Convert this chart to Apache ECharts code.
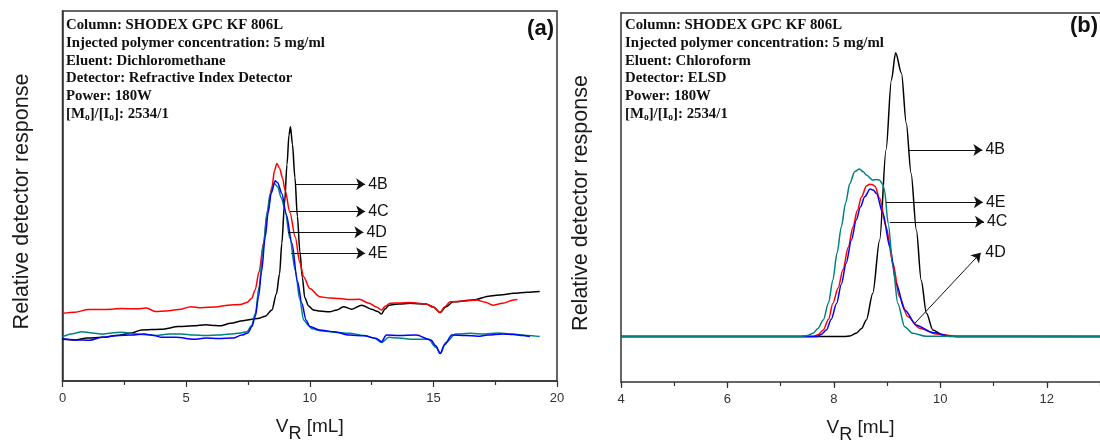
<!DOCTYPE html>
<html>
<head>
<meta charset="utf-8">
<script src="https://cdn.jsdelivr.net/npm/echarts@6/dist/echarts.min.js"></script>
<style>
  html, body { margin: 0; padding: 0; background: #fff; }
  #chart { width: 1100px; height: 443px; }
</style>
</head>
<body>
<div id="chart"></div>
<script>
// GPC traces, elution volume V_R [mL] vs relative detector response (arbitrary units, 0-100)

// Panel (a): RI detector, dichloromethane
const aBlack = [[0,11.3],[0.5,11.1],[1.0,11.6],[1.6,11.8],[2.2,12.3],[2.8,13.0],[3.2,13.8],[4.0,14.0],[4.7,14.7],[5.3,14.9],[5.8,15.2],[6.2,15.0],[6.4,14.9],[6.8,15.6],[7.3,16.3],[7.9,16.9],[8.2,17.5],[8.47,19.2],[8.65,23.5],[8.78,29.0],[8.87,37.2],[8.98,48.0],[9.08,58.5],[9.16,66.5],[9.22,68.7],[9.3,64.0],[9.4,55.0],[9.5,44.5],[9.6,35.0],[9.7,28.0],[9.8,22.5],[9.95,20.3],[10.15,19.2],[10.4,18.9],[10.8,18.7],[11.1,19.2],[11.36,20.1],[11.7,19.4],[12.1,20.5],[12.5,19.4],[12.75,18.8],[12.9,18.1],[13.05,19.5],[13.2,20.5],[13.6,20.8],[14.06,21.0],[14.7,20.8],[15.0,20.0],[15.27,18.5],[15.5,20.0],[15.8,21.4],[16.6,21.9],[17.3,23.0],[17.8,23.3],[18.24,23.7],[18.8,24.0],[19.3,24.2]];
const aRed = [[0,18.3],[0.5,18.6],[1.05,19.3],[1.5,19.3],[2.0,19.4],[2.4,19.6],[3.0,19.5],[3.4,19.7],[3.75,18.8],[4.2,18.9],[4.7,19.3],[5.2,20.1],[5.6,19.8],[6.2,20.0],[6.7,20.5],[7.2,20.7],[7.46,21.2],[7.65,22.3],[7.79,24.6],[7.95,29.5],[8.13,37.2],[8.3,46.0],[8.47,52.5],[8.58,57.0],[8.67,58.8],[8.78,57.5],[8.9,54.8],[9.0,51.6],[9.2,45.5],[9.41,39.0],[9.6,32.0],[9.75,28.2],[10.0,25.0],[10.4,22.8],[10.8,22.4],[11.2,22.3],[11.6,22.0],[12.0,22.1],[12.4,21.0],[12.7,20.0],[12.9,19.2],[13.05,20.2],[13.25,21.0],[13.6,21.1],[14.06,21.2],[14.7,20.8],[15.0,20.0],[15.27,18.5],[15.45,20.0],[15.68,21.4],[16.2,21.6],[16.75,21.9],[17.1,21.3],[17.4,20.5],[17.8,21.0],[18.24,21.9],[18.4,22.0]];
const aTeal = [[0,12.0],[0.4,12.8],[0.78,13.3],[1.2,13.0],[1.6,12.7],[2.0,13.0],[2.4,13.2],[3.0,12.7],[3.5,12.5],[3.8,12.3],[4.3,12.7],[4.8,12.7],[5.3,12.4],[5.8,12.3],[6.3,12.4],[6.8,12.7],[7.2,13.0],[7.46,13.3],[7.65,15.0],[7.8,18.3],[7.95,25.5],[8.13,37.2],[8.27,45.5],[8.4,50.7],[8.57,53.4],[8.7,52.5],[8.85,49.5],[9.0,46.2],[9.2,38.5],[9.41,30.0],[9.6,22.0],[9.75,16.5],[9.95,15.0],[10.1,14.1],[10.5,13.5],[11.0,13.2],[11.6,12.9],[12.2,12.3],[12.6,11.6],[12.9,10.4],[13.2,11.8],[13.6,11.6],[14.2,11.3],[14.8,11.3],[15.1,9.1],[15.3,7.5],[15.5,10.4],[15.9,12.7],[16.5,12.9],[17.0,12.7],[17.6,13.0],[18.2,12.7],[18.8,12.3],[19.3,12.0]];
const aBlue = [[0,11.4],[0.3,11.2],[0.58,11.1],[1.1,11.0],[1.6,11.8],[2.2,12.3],[2.8,12.4],[3.3,12.7],[3.7,12.3],[4.0,11.8],[4.6,11.8],[5.3,11.3],[5.8,11.6],[6.3,11.5],[6.9,11.6],[7.25,12.4],[7.5,13.0],[7.66,14.7],[7.8,17.5],[7.93,22.8],[8.05,29.5],[8.2,39.0],[8.32,45.5],[8.44,50.7],[8.6,54.1],[8.7,53.6],[8.87,50.7],[9.05,45.0],[9.28,37.2],[9.5,27.0],[9.68,21.0],[9.85,16.5],[10.0,14.7],[10.4,13.8],[11.0,13.3],[11.6,12.4],[12.2,12.2],[12.7,11.5],[12.9,10.6],[13.1,12.4],[13.6,12.3],[14.3,12.4],[14.9,11.1],[15.1,9.5],[15.27,7.4],[15.45,9.8],[15.75,12.4],[16.3,12.3],[16.8,12.1],[17.2,12.4],[17.8,12.7],[18.24,12.6],[18.6,12.3],[18.9,12.0]];

// Panel (b): ELSD, chloroform
const bBlack = [[4,12.3],[8.2,12.3],[8.3,12.5],[8.42,13.2],[8.52,14.5],[8.61,16.8],[8.73,24.0],[8.86,38.5],[8.98,62.9],[9.08,81.8],[9.16,89.2],[9.27,83.7],[9.36,70.1],[9.45,56.6],[9.55,41.2],[9.64,27.6],[9.74,18.6],[9.86,14.1],[10.05,12.7],[10.3,12.3],[14,12.3]];
const bRed = [[4,12.3],[7.61,12.3],[7.7,12.8],[7.8,14.1],[7.9,17.0],[7.98,21.3],[8.08,25.5],[8.17,30.4],[8.27,36.5],[8.36,42.1],[8.44,46.5],[8.52,50.2],[8.61,53.1],[8.67,53.6],[8.72,53.5],[8.77,53.1],[8.86,49.8],[8.98,42.1],[9.11,32.2],[9.23,23.1],[9.39,17.7],[9.61,14.6],[9.92,13.0],[10.35,12.3],[14,12.3]];
const bBlue = [[4,12.3],[7.67,12.3],[7.76,12.9],[7.86,14.1],[7.95,17.0],[8.05,21.3],[8.14,26.5],[8.23,32.2],[8.33,38.5],[8.42,43.9],[8.5,47.5],[8.58,50.2],[8.68,52.3],[8.74,52.0],[8.8,51.1],[8.92,45.7],[9.05,36.7],[9.17,26.7],[9.33,19.5],[9.55,15.4],[9.86,13.4],[10.2,12.3],[14,12.3]];
const bTeal = [[4,12.3],[7.36,12.3],[7.5,12.6],[7.61,13.2],[7.7,14.5],[7.8,16.8],[7.9,21.5],[7.98,27.6],[8.06,35.0],[8.14,42.1],[8.22,48.5],[8.3,53.8],[8.39,57.0],[8.48,57.7],[8.55,57.0],[8.61,56.1],[8.73,54.7],[8.8,54.9],[8.86,54.7],[8.92,53.5],[8.95,52.0],[9.02,43.0],[9.11,31.2],[9.2,21.3],[9.33,15.0],[9.48,13.2],[9.73,12.4],[14,12.3]];

// Sample labels: [name, fromX, fromY, toX, toY]; label text sits at the arrow tip
const arrowsA = [['4B',9.42,53.2,12.24,53.2],['4C',9.2,45.8,12.24,45.8],['4D',9.12,40.2,12.17,40.2],['4E',9.25,34.5,12.24,34.5]];
const arrowsB = [['4B',9.41,62.9,10.79,62.9],['4E',8.98,48.7,10.80,48.7],['4C',9.05,43.4,10.82,43.4]];
// slanted pointer of panel (b): [name, fromX, fromY, toX, toY]
const slantB = ['4D',9.52,15.9,10.76,35.0];

// Run conditions
const condA = ['Column: SHODEX GPC KF 806L','Injected polymer concentration: 5 mg/ml','Eluent: Dichloromethane','Detector: Refractive Index Detector','Power: 180W'];
const condB = ['Column: SHODEX GPC KF 806L','Injected polymer concentration: 5 mg/ml','Eluent: Chloroform','Detector: ELSD','Power: 180W'];
const ratioText = '2534/1';

// x ticks
const xTicksA = { min: 0, max: 20, interval: 5 };
const xTicksB = { min: 4, max: 13, interval: 2 };

const SANS = 'Liberation Sans';
const SERIF = 'Liberation Serif';
const AXIS_COLOR = '#333';

function condBlock(lines) {
  const body = lines.map(l => '{b|' + l + '}');
  body.push('{b|[M}{s|o}{b|]/[I}{s|o}{b|]: ' + ratioText + '}');
  return body.join('\n');
}
const condRich = {
  b: { fontFamily: SERIF, fontWeight: 'bold', fontSize: 14.8, lineHeight: 17.7, fill: '#111' },
  s: { fontFamily: SERIF, fontWeight: 'bold', fontSize: 9.5, lineHeight: 10, verticalAlign: 'bottom', fill: '#111' }
};

const labelStyle = { color: '#111', fontSize: 16, fontFamily: SANS };

function arrowData(list) {
  return list.map(a => [{ name: a[0], coord: [a[1], a[2]] }, { coord: [a[3], a[4]] }]);
}

function xAxisFor(idx, t) {
  return {
    gridIndex: idx, type: 'value', position: 'bottom', min: t.min, max: t.max, interval: t.interval,
    axisLine: { show: true, onZero: false, lineStyle: { color: AXIS_COLOR, width: 1.5 } },
    axisTick: { show: true, inside: false, length: 6, lineStyle: { color: AXIS_COLOR, width: 1.2 } },
    minorTick: { show: idx === 0, splitNumber: 2, length: 4, lineStyle: { color: AXIS_COLOR, width: 1.2 } },
    splitLine: { show: false },
    axisLabel: { color: '#333', fontSize: 13, fontFamily: SANS, margin: 11, showMaxLabel: idx === 0 },
    name: '{v|V}{r|R}{v| [mL]}', nameLocation: 'middle', nameGap: 30,
    nameTextStyle: {
      rich: {
        v: { fontSize: 19, fontFamily: SANS, color: '#1a1a1a' },
        r: { fontSize: 18, fontFamily: SANS, color: '#1a1a1a', padding: [14, 0, 0, 0] }
      }
    }
  };
}

// unit-step ticks between the labelled ones of panel (b)
function minorAxisB(t) {
  return {
    gridIndex: 1, type: 'value', position: 'bottom', min: t.min, max: t.max, interval: 1,
    axisLine: { show: false }, axisLabel: { show: false }, splitLine: { show: false },
    axisTick: { show: true, inside: false, length: 4, lineStyle: { color: AXIS_COLOR, width: 1.2 } }
  };
}

// frame line along the top of panel (b)
function topAxisB(t) {
  return {
    gridIndex: 1, type: 'value', position: 'top', min: t.min, max: t.max,
    axisLine: { show: true, onZero: false, lineStyle: { color: AXIS_COLOR, width: 1.5 } },
    axisTick: { show: false }, axisLabel: { show: false }, splitLine: { show: false }
  };
}

function yAxisFor(idx) {
  return {
    gridIndex: idx, type: 'value', min: 0, max: 100,
    axisLine: { show: true, onZero: false, lineStyle: { color: AXIS_COLOR, width: 1.5 } },
    axisTick: { show: false }, axisLabel: { show: false }, splitLine: { show: false },
    name: 'Relative detector response', nameLocation: 'middle', nameGap: 29, nameRotate: 90,
    nameTextStyle: { fontSize: 21.5, fontFamily: SANS, color: '#1a1a1a', padding: [0, 11, 0, 0] }
  };
}

function trace(xi, yi, data, color, extra) {
  return Object.assign({
    type: 'line', xAxisIndex: xi, yAxisIndex: yi, data: data,
    showSymbol: false, symbol: 'none', smooth: 0.3, smoothMonotone: 'x',
    lineStyle: { color: color, width: 1.5 }, silent: true
  }, extra || {});
}

function arrowLines(data) {
  return {
    silent: true, animation: false,
    symbol: ['none', 'arrow'], symbolSize: 9,
    lineStyle: { color: '#111', width: 1, type: 'solid' },
    label: Object.assign({ show: true, position: 'end', distance: 3, formatter: p => p.name }, labelStyle),
    emphasis: { disabled: true },
    data: data
  };
}

const slantLine = [
  { name: slantB[0], coord: [slantB[1], slantB[2]], label: { show: false } },
  { coord: [slantB[3], slantB[4]] }
];

const BLACK = '#000000', RED = '#ff0000', BLUE = '#0000ff', TEAL = '#008080';

const option = {
  animation: false,
  backgroundColor: '#ffffff',
  grid: [
    { left: 62.5, right: 543, top: 11, bottom: 62, outerBoundsMode: 'none', containLabel: false,
      show: true, borderColor: AXIS_COLOR, borderWidth: 1.5, backgroundColor: 'transparent' },
    { left: 621, right: 0, top: 13, bottom: 61, outerBoundsMode: 'none', containLabel: false, show: false }
  ],
  xAxis: [xAxisFor(0, xTicksA), xAxisFor(1, xTicksB), minorAxisB(xTicksB), topAxisB(xTicksB)],
  yAxis: [yAxisFor(0), yAxisFor(1)],
  series: [
    trace(0, 0, aBlack, BLACK, { markLine: arrowLines(arrowData(arrowsA)) }),
    trace(0, 0, aRed, RED),
    trace(0, 0, aTeal, TEAL),
    trace(0, 0, aBlue, BLUE),
    trace(1, 1, bBlack, BLACK, {
      markLine: arrowLines(arrowData(arrowsB).concat([slantLine])),
      markPoint: {
        silent: true, animation: false, symbol: 'circle', symbolSize: 1,
        itemStyle: { color: 'rgba(0,0,0,0)' },
        label: Object.assign({ show: true, position: 'right', distance: 4, formatter: p => p.name }, labelStyle),
        data: [{ name: slantB[0], coord: [slantB[3], slantB[4]] }]
      }
    }),
    trace(1, 1, bRed, RED),
    trace(1, 1, bBlue, BLUE),
    trace(1, 1, bTeal, TEAL)
  ],
  graphic: [
    { type: 'text', left: 66, top: 18, silent: true, style: { text: condBlock(condA), rich: condRich } },
    { type: 'text', left: 625, top: 18, silent: true, style: { text: condBlock(condB), rich: condRich } },
    { type: 'text', right: 1100 - 554, top: 18, silent: true, style: { text: '(a)', fontFamily: SANS, fontWeight: 'bold', fontSize: 22, fill: '#111' } },
    { type: 'text', right: 2, top: 15, silent: true, style: { text: '(b)', fontFamily: SANS, fontWeight: 'bold', fontSize: 22, fill: '#111' } }
  ]
};

const chart = echarts.init(document.getElementById('chart'), null, { renderer: 'canvas' });
chart.setOption(option);
</script>
</body>
</html>
